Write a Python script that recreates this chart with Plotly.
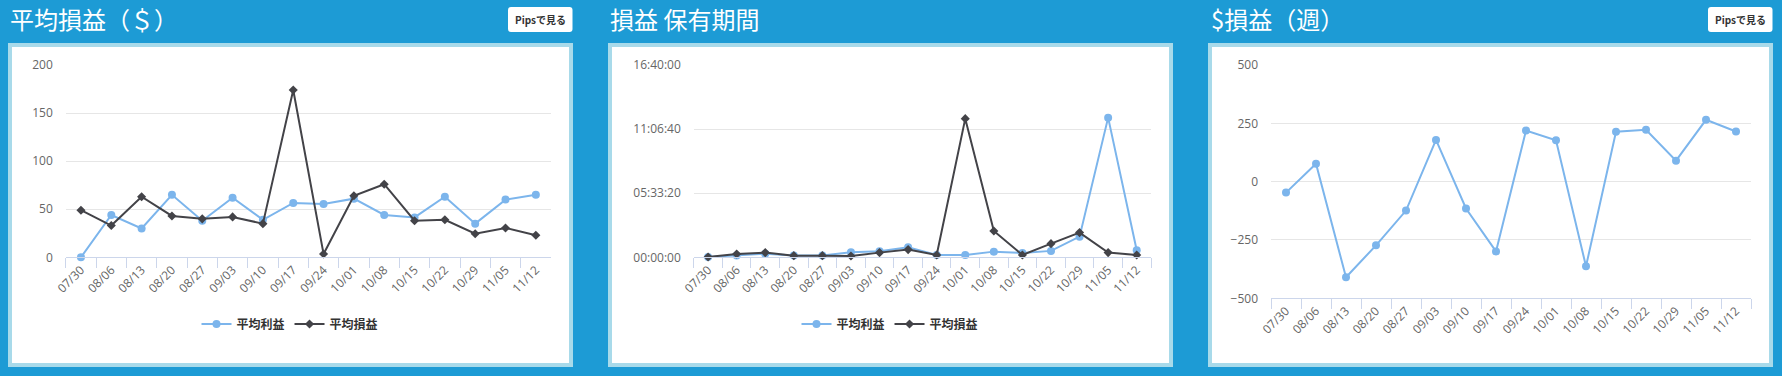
import plotly.graph_objects as go

# ---------------- data ----------------
categories = ["07/30", "08/06", "08/13", "08/20", "08/27", "09/03", "09/10", "09/17",
              "09/24", "10/01", "10/08", "10/15", "10/22", "10/29", "11/05", "11/12"]

# panel 1: 平均損益（＄）
avg_profit = [0, 44, 30, 65, 38, 62, 39, 56.5, 55.5, 61, 44, 41.5, 63, 35, 60, 65]
avg_loss = [49, 33, 63, 43, 40, 42, 35, 174, 3.5, 64, 76, 38, 39, 24.5, 30.5, 23]

# panel 2: 損益 保有期間 (seconds)
hold_profit_sec = [100, 600, 1100, 600, 600, 1560, 1870, 3100, 700, 700, 1770, 1350, 2000, 6450, 43580, 2200]
hold_loss_sec = [100, 1040, 1460, 520, 520, 420, 1460, 2400, 730, 43260, 8200, 730, 4260, 7700, 1460, 730]
hold_tickvals = [0, 20000, 40000, 60000]

# panel 3: $損益（週）
weekly_pnl = [-47, 77, -410, -273, -124, 179, -115, -299, 219, 177, -363, 214, 222, 90, 265, 215]

series_names = ["平均利益", "平均損益"]
panel_titles = ["平均損益（＄）", "損益 保有期間", "$損益（週）"]
button_text = "Pipsで見る"


def fmt_hms(s):
    s = int(s)
    return f"{s // 3600:02d}:{(s % 3600) // 60:02d}:{s % 60:02d}"


hold_ticktext = [fmt_hms(v) for v in hold_tickvals]

# ---------------- styling ----------------
W, H = 1782, 376
BG = "#1d9bd5"
BORDER = "#a8daea"
BLUE = "#7cb5ec"
DARK = "#434348"
GRID = "#e6e6e6"
AXIS = "#ccd6eb"
LABEL = "#666666"
FONT = "Open Sans, Noto Sans CJK JP, sans-serif"
CJK = "Noto Sans CJK JP, sans-serif"


def px(x):
    return x / W


def py(y):
    return 1 - y / H


CIRCLE = dict(symbol="circle", size=8, color=BLUE)
DIAMOND = dict(symbol="diamond", size=7, color=DARK)

fig = go.Figure()

# panel 1 traces
fig.add_trace(go.Scatter(x=categories, y=avg_profit, name=series_names[0], mode="lines+markers",
                         line=dict(color=BLUE, width=2), marker=CIRCLE,
                         xaxis="x", yaxis="y", legend="legend", cliponaxis=False))
fig.add_trace(go.Scatter(x=categories, y=avg_loss, name=series_names[1], mode="lines+markers",
                         line=dict(color=DARK, width=2), marker=DIAMOND,
                         xaxis="x", yaxis="y", legend="legend", cliponaxis=False))
# panel 2 traces
fig.add_trace(go.Scatter(x=categories, y=hold_profit_sec, name=series_names[0], mode="lines+markers",
                         line=dict(color=BLUE, width=2), marker=CIRCLE,
                         xaxis="x2", yaxis="y2", legend="legend2", cliponaxis=False))
fig.add_trace(go.Scatter(x=categories, y=hold_loss_sec, name=series_names[1], mode="lines+markers",
                         line=dict(color=DARK, width=2), marker=DIAMOND,
                         xaxis="x2", yaxis="y2", legend="legend2", cliponaxis=False))
# panel 3 trace
fig.add_trace(go.Scatter(x=categories, y=weekly_pnl, name="損益", mode="lines+markers",
                         line=dict(color=BLUE, width=2), marker=CIRCLE,
                         xaxis="x3", yaxis="y3", showlegend=False, cliponaxis=False))


def xaxis(domain, anchor):
    return dict(domain=domain, anchor=anchor, type="category", categoryarray=categories,
                categoryorder="array", range=[-0.5, len(categories) - 0.5], automargin=False,
                tickson="boundaries", ticks="outside", ticklen=10, tickcolor=AXIS, tickwidth=1,
                showline=True, linecolor=AXIS, linewidth=1, showgrid=False, zeroline=False,
                tickangle=-45, tickfont=dict(family=FONT, size=12, color=LABEL), fixedrange=True)


def yaxis(domain, anchor, **kw):
    d = dict(domain=domain, anchor=anchor, showgrid=True, gridcolor=GRID, gridwidth=1,
             zeroline=False, showline=False, ticks="", ticklabelstandoff=12, automargin=False,
             tickfont=dict(family=FONT, size=12, color=LABEL), fixedrange=True)
    d.update(kw)
    return d


yd12 = [py(257.3), py(65)]
yd3 = [py(298.3), py(65)]

legend_style = dict(orientation="h", xanchor="center", y=py(324), yanchor="middle",
                    itemwidth=30, font=dict(family=CJK, size=12, color="#333333", weight="bold"),
                    bgcolor="rgba(0,0,0,0)")

fig.update_layout(
    width=W, height=H, margin=dict(l=0, r=0, t=0, b=0, autoexpand=False),
    paper_bgcolor=BG, plot_bgcolor="white",
    xaxis=xaxis([px(65.8), px(551)], "y"),
    yaxis=yaxis(yd12, "x", range=[0, 200], tickvals=[0, 50, 100, 150, 200]),
    xaxis2=xaxis([px(693.8), px(1151)], "y2"),
    yaxis2=yaxis(yd12, "x2", range=[0, 60000], tickvals=hold_tickvals, ticktext=hold_ticktext),
    xaxis3=xaxis([px(1271), px(1751)], "y3"),
    yaxis3=yaxis(yd3, "x3", range=[-500, 500], tickvals=[-500, -250, 0, 250, 500]),
    legend=dict(x=px(290), **legend_style),
    legend2=dict(x=px(890), **legend_style),
    showlegend=True,
)

# panel boxes
shapes = []
for (x0, x1) in [(8, 573), (608, 1173), (1208, 1773)]:
    shapes.append(dict(type="rect", xref="paper", yref="paper", x0=px(x0), x1=px(x1),
                       y0=py(367), y1=py(43), fillcolor=BORDER, line=dict(width=0), layer="below"))
    shapes.append(dict(type="rect", xref="paper", yref="paper", x0=px(x0 + 4), x1=px(x1 - 4),
                       y0=py(363), y1=py(47), fillcolor="white", line=dict(width=0), layer="below"))


def rrect(x0, y0, x1, y1, r):
    rx, ry = r / W, r / H
    X0, X1, Y0, Y1 = px(x0), px(x1), py(y1), py(y0)
    return (f"M {X0 + rx},{Y0} L {X1 - rx},{Y0} Q {X1},{Y0} {X1},{Y0 + ry} "
            f"L {X1},{Y1 - ry} Q {X1},{Y1} {X1 - rx},{Y1} L {X0 + rx},{Y1} "
            f"Q {X0},{Y1} {X0},{Y1 - ry} L {X0},{Y0 + ry} Q {X0},{Y0} {X0 + rx},{Y0} Z")


annotations = []
for (bx0, bx1) in [(508, 572.5), (1708, 1772.5)]:
    shapes.append(dict(type="path", xref="paper", yref="paper", path=rrect(bx0, 7, bx1, 32, 3),
                       fillcolor="white", line=dict(width=0), layer="above"))
    annotations.append(dict(xref="paper", yref="paper", x=px((bx0 + bx1) / 2), y=py(19.5),
                            xanchor="center", yanchor="middle", showarrow=False,
                            text=f"<b>{button_text}</b>",
                            font=dict(family=CJK, size=10, color="#333333")))

for title, tx in zip(panel_titles, [8, 608, 1209]):
    annotations.append(dict(xref="paper", yref="paper", x=px(tx), y=py(19), xanchor="left",
                            yanchor="middle", showarrow=False, text=title,
                            font=dict(family=CJK, size=24, color="white")))

fig.update_layout(shapes=shapes, annotations=annotations)

fig.write_html("out.html", config={"displayModeBar": False},
               post_script="document.body.style.margin='0';document.body.style.padding='0';"
                           "document.body.style.overflow='hidden';")
